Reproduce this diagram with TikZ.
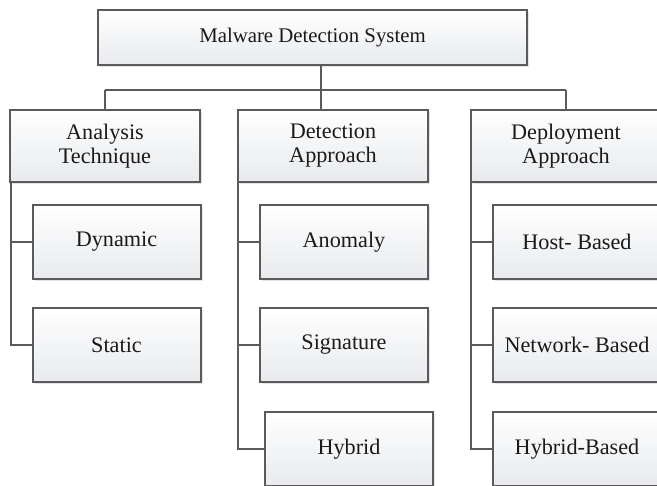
\documentclass[tikz,border=0pt]{standalone}
\usepackage{fontspec}
\setmainfont{Liberation Serif}
\usetikzlibrary{shadows,calc}
\definecolor{edge}{HTML}{5A5A5A}
\definecolor{ink}{HTML}{1A1A1A}
\definecolor{boxlow}{HTML}{E8EAED}
\tikzset{
  box/.style={rectangle, draw=edge, line width=2pt, top color=white, bottom color=boxlow,
    drop shadow={shadow xshift=2pt, shadow yshift=-2pt, fill=black, opacity=0.10},
    text=ink, align=center, inner sep=2pt,
    font=\fontsize{22.2}{24}\selectfont},
  topbox/.style={box, minimum width=429pt, minimum height=55pt,
    font=\fontsize{20.8}{24}\selectfont},
  headbox/.style={box, minimum width=190pt, minimum height=72pt},
  leafbox/.style={box, minimum width=168pt, minimum height=74pt},
  link/.style={draw=edge, line width=2pt}
}
\begin{document}
\begin{tikzpicture}[x=1pt, y=-1pt]
  \useasboundingbox (0,0) rectangle (657,486);
  \clip (0,0) rectangle (657,486);

  % root and the three categories
  \node[topbox]  (root) at (312.5,37.5) {Malware Detection System};
  \node[headbox] (ana)  at (105,146) {Analysis\\Technique};
  \node[headbox] (det)  at (333,146) {Detection\\Approach};
  \node[headbox] (dep)  at (566,146) {Deployment\\Approach};

  % leaves
  \node[leafbox] (dyn) at (116.5,242) {Dynamic};
  \node[leafbox] (sta) at (116.5,345) {Static};
  \node[leafbox] (ano) at (344,242) {Anomaly};
  \node[leafbox] (sig) at (344,345) {Signature};
  \node[leafbox] (hyb) at (349,449) {Hybrid};
  \node[leafbox] (hos) at (577,242) {Host- Based};
  \node[leafbox] (net) at (577,345) {Network- Based};
  \node[leafbox] (hyc) at (577,449) {Hybrid-Based};

  % bus under the root
  \coordinate (bus) at (321,90);
  \draw[link] (bus |- root.south) -- (bus);
  \draw[link] (ana.north |- bus) -- (dep.north |- bus);
  \draw[link] (ana.north |- bus) -- (ana.north);
  \draw[link] (bus) -- (bus |- det.north);
  \draw[link] (dep.north |- bus) -- (dep.north);

  % trunks down the left side of each category
  \coordinate (anaT) at ($(ana.south west)+(2,0)$);
  \coordinate (detT) at ($(det.south west)+(1,0)$);
  \coordinate (depT) at ($(dep.south west)+(1,0)$);

  \draw[link] (anaT) |- (sta.west);
  \draw[link] (dyn.west) -- (dyn.west -| anaT);

  \draw[link] (detT) |- (hyb.west);
  \draw[link] (ano.west) -- (ano.west -| detT);
  \draw[link] (sig.west) -- (sig.west -| detT);

  \draw[link] (depT) |- (hyc.west);
  \draw[link] (hos.west) -- (hos.west -| depT);
  \draw[link] (net.west) -- (net.west -| depT);
\end{tikzpicture}
\end{document}
